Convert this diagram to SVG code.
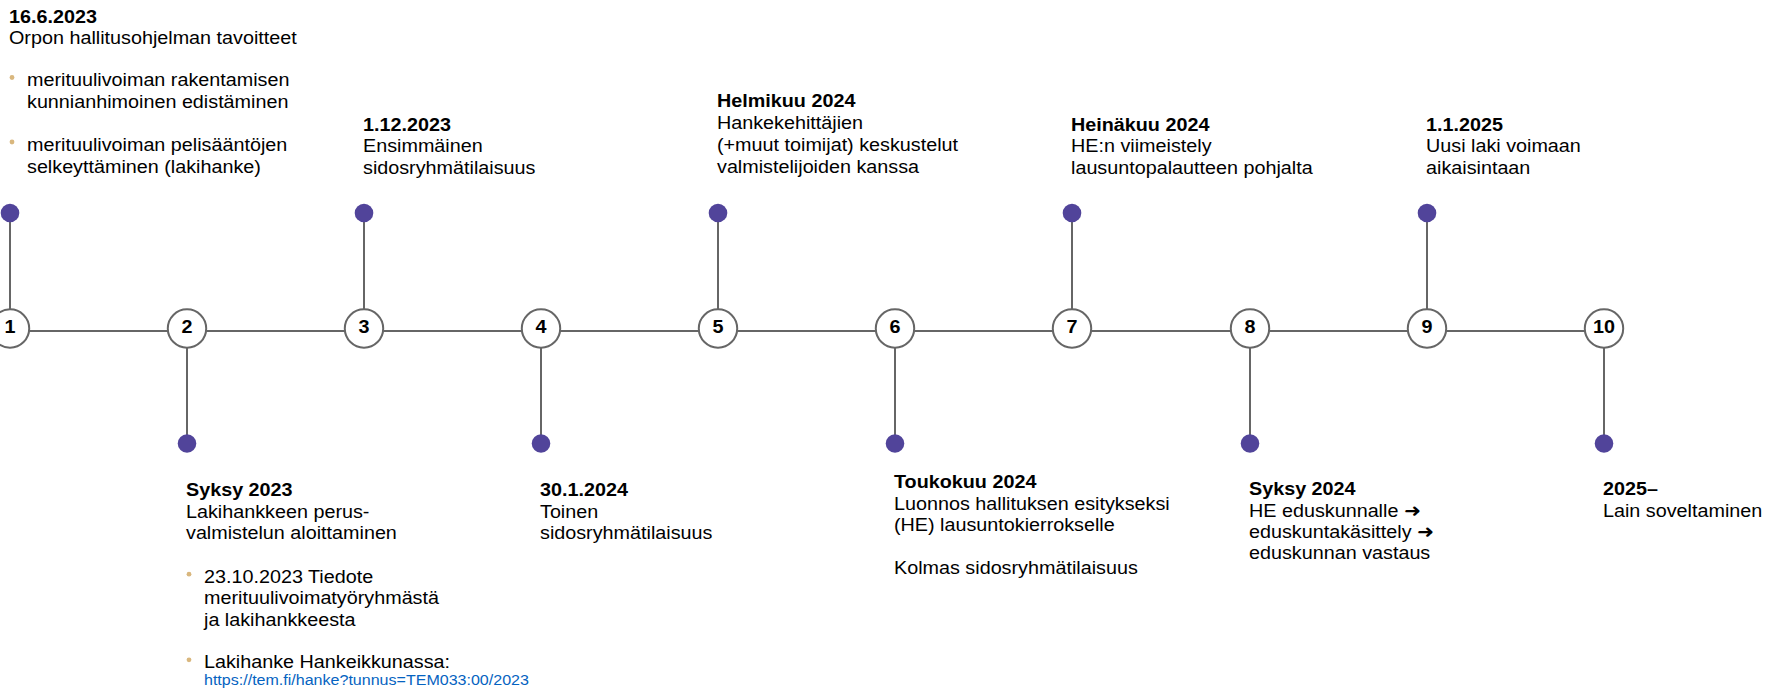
<svg xmlns="http://www.w3.org/2000/svg" width="1765" height="689" viewBox="0 0 1765 689">
<style>
  text { font-family: "Liberation Sans", Arial, "DejaVu Sans", sans-serif; font-size: 17.5px; fill: #000; }
  .b { font-weight: bold; }
  .num { font-weight: bold; text-anchor: middle; }
  .url { font-size: 14.2px; fill: #0563C1; }
  .arr { font-family: "DejaVu Sans", sans-serif; font-weight: bold; font-size: 18px; }
  .ring { fill: #fff; stroke: #666; stroke-width: 2; }
  .stem { stroke: #666; stroke-width: 2; }
  .dot { fill: #51449A; }
  .bul { fill: #D9B77E; }
  .conn { stroke: #666; stroke-width: 2; fill: none; }
</style>
<rect width="1765" height="689" fill="#fff"/>
<g id="connectors">
  <line class="conn" x1="10" y1="331" x2="1604" y2="331"/>
</g>

<g id="node1">
  <line class="stem" x1="10" y1="213" x2="10" y2="309"/>
  <circle class="dot" cx="10" cy="213" r="9.3"/>
  <circle class="ring" cx="10" cy="328.5" r="19.2"/>
  <g transform="translate(10,0) scale(1.13,1)"><text class="num" x="0" y="333.5">1</text></g>
  <g transform="translate(9,0) scale(1.13,1)">
    <text class="b" x="0" y="22.7">16.6.2023</text>
    <text x="0" y="44.3">Orpon hallitusohjelman tavoitteet</text>
  </g>
  <circle class="bul" cx="12" cy="77.5" r="2.4"/>
  <circle class="bul" cx="12" cy="142" r="2.4"/>
  <g transform="translate(27,0) scale(1.13,1)">
    <text x="0" y="86.3">merituulivoiman rakentamisen</text>
    <text x="0" y="107.6">kunnianhimoinen edistäminen</text>
    <text x="0" y="151">merituulivoiman pelisääntöjen</text>
    <text x="0" y="172.7">selkeyttäminen (lakihanke)</text>
  </g>
</g>

<g id="node2">
  <line class="stem" x1="187" y1="348" x2="187" y2="443.5"/>
  <circle class="dot" cx="187" cy="443.5" r="9.3"/>
  <circle class="ring" cx="187" cy="328.5" r="19.2"/>
  <g transform="translate(187,0) scale(1.13,1)"><text class="num" x="0" y="333.5">2</text></g>
  <g transform="translate(186,0) scale(1.13,1)">
    <text class="b" x="0" y="496">Syksy 2023</text>
    <text x="0" y="517.7">Lakihankkeen perus-</text>
    <text x="0" y="539">valmistelun aloittaminen</text>
  </g>
  <circle class="bul" cx="189" cy="574.2" r="2.4"/>
  <circle class="bul" cx="189" cy="659.8" r="2.4"/>
  <g transform="translate(204,0) scale(1.13,1)">
    <text x="0" y="582.7">23.10.2023 Tiedote</text>
    <text x="0" y="604.3">merituulivoimatyöryhmästä</text>
    <text x="0" y="625.7">ja lakihankkeesta</text>
    <text x="0" y="668.3">Lakihanke Hankeikkunassa:</text>
    <text class="url" x="0" y="685">https://tem.fi/hanke?tunnus=TEM033:00/2023</text>
  </g>
</g>

<g id="node3">
  <line class="stem" x1="364" y1="213" x2="364" y2="309"/>
  <circle class="dot" cx="364" cy="213" r="9.3"/>
  <circle class="ring" cx="364" cy="328.5" r="19.2"/>
  <g transform="translate(364,0) scale(1.13,1)"><text class="num" x="0" y="333.5">3</text></g>
  <g transform="translate(363,0) scale(1.13,1)">
    <text class="b" x="0" y="130.7">1.12.2023</text>
    <text x="0" y="152.5">Ensimmäinen</text>
    <text x="0" y="174.3">sidosryhmätilaisuus</text>
  </g>
</g>

<g id="node4">
  <line class="stem" x1="541" y1="348" x2="541" y2="443.5"/>
  <circle class="dot" cx="541" cy="443.5" r="9.3"/>
  <circle class="ring" cx="541" cy="328.5" r="19.2"/>
  <g transform="translate(541,0) scale(1.13,1)"><text class="num" x="0" y="333.5">4</text></g>
  <g transform="translate(540,0) scale(1.13,1)">
    <text class="b" x="0" y="496">30.1.2024</text>
    <text x="0" y="517.7">Toinen</text>
    <text x="0" y="539">sidosryhmätilaisuus</text>
  </g>
</g>

<g id="node5">
  <line class="stem" x1="718" y1="213" x2="718" y2="309"/>
  <circle class="dot" cx="718" cy="213" r="9.3"/>
  <circle class="ring" cx="718" cy="328.5" r="19.2"/>
  <g transform="translate(718,0) scale(1.13,1)"><text class="num" x="0" y="333.5">5</text></g>
  <g transform="translate(717,0) scale(1.13,1)">
    <text class="b" x="0" y="107.3">Helmikuu 2024</text>
    <text x="0" y="129">Hankekehittäjien</text>
    <text x="0" y="151">(+muut toimijat) keskustelut</text>
    <text x="0" y="172.7">valmistelijoiden kanssa</text>
  </g>
</g>

<g id="node6">
  <line class="stem" x1="895" y1="348" x2="895" y2="443.5"/>
  <circle class="dot" cx="895" cy="443.5" r="9.3"/>
  <circle class="ring" cx="895" cy="328.5" r="19.2"/>
  <g transform="translate(895,0) scale(1.13,1)"><text class="num" x="0" y="333.5">6</text></g>
  <g transform="translate(894,0) scale(1.13,1)">
    <text class="b" x="0" y="488.3">Toukokuu 2024</text>
    <text x="0" y="510">Luonnos hallituksen esitykseksi</text>
    <text x="0" y="531.3">(HE) lausuntokierrokselle</text>
    <text x="0" y="574">Kolmas sidosryhmätilaisuus</text>
  </g>
</g>

<g id="node7">
  <line class="stem" x1="1072" y1="213" x2="1072" y2="309"/>
  <circle class="dot" cx="1072" cy="213" r="9.3"/>
  <circle class="ring" cx="1072" cy="328.5" r="19.2"/>
  <g transform="translate(1072,0) scale(1.13,1)"><text class="num" x="0" y="333.5">7</text></g>
  <g transform="translate(1071,0) scale(1.13,1)">
    <text class="b" x="0" y="130.7">Heinäkuu 2024</text>
    <text x="0" y="152.5">HE:n viimeistely</text>
    <text x="0" y="174.3">lausuntopalautteen pohjalta</text>
  </g>
</g>

<g id="node8">
  <line class="stem" x1="1250" y1="348" x2="1250" y2="443.5"/>
  <circle class="dot" cx="1250" cy="443.5" r="9.3"/>
  <circle class="ring" cx="1250" cy="328.5" r="19.2"/>
  <g transform="translate(1250,0) scale(1.13,1)"><text class="num" x="0" y="333.5">8</text></g>
  <g transform="translate(1249,0) scale(1.13,1)">
    <text class="b" x="0" y="495">Syksy 2024</text>
    <text x="0" y="516.7">HE eduskunnalle <tspan class="arr">➜</tspan></text>
    <text x="0" y="538">eduskuntakäsittely <tspan class="arr">➜</tspan></text>
    <text x="0" y="559.5">eduskunnan vastaus</text>
  </g>
</g>

<g id="node9">
  <line class="stem" x1="1427" y1="213" x2="1427" y2="309"/>
  <circle class="dot" cx="1427" cy="213" r="9.3"/>
  <circle class="ring" cx="1427" cy="328.5" r="19.2"/>
  <g transform="translate(1427,0) scale(1.13,1)"><text class="num" x="0" y="333.5">9</text></g>
  <g transform="translate(1426,0) scale(1.13,1)">
    <text class="b" x="0" y="130.7">1.1.2025</text>
    <text x="0" y="152.5">Uusi laki voimaan</text>
    <text x="0" y="174.3">aikaisintaan</text>
  </g>
</g>

<g id="node10">
  <line class="stem" x1="1604" y1="348" x2="1604" y2="443.5"/>
  <circle class="dot" cx="1604" cy="443.5" r="9.3"/>
  <circle class="ring" cx="1604" cy="328.5" r="19.2"/>
  <g transform="translate(1604,0) scale(1.13,1)"><text class="num" x="0" y="333.5">10</text></g>
  <g transform="translate(1603,0) scale(1.13,1)">
    <text class="b" x="0" y="495">2025–</text>
    <text x="0" y="516.7">Lain soveltaminen</text>
  </g>
</g>
</svg>
